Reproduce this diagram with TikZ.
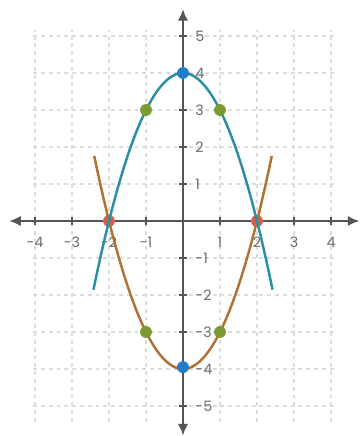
\documentclass[tikz,border=0pt]{standalone}
\usepackage{fontspec}
\setmainfont{Poppins}
\usetikzlibrary{arrows.meta}
\definecolor{gridgray}{HTML}{DCDCDC}
\definecolor{axisgray}{HTML}{555555}
\definecolor{labelgray}{HTML}{6A6A6A}
\definecolor{tealcurve}{HTML}{2C8DA6}
\definecolor{browncurve}{HTML}{B07232}
\definecolor{bluedot}{HTML}{1E7CC8}
\definecolor{greendot}{HTML}{7C9A32}
\definecolor{reddot}{HTML}{D85A50}

\begin{document}
\begin{tikzpicture}[x=1cm, y=1cm,
  gridline/.style={gridgray, dashed, line width=0.9pt},
  axisline/.style={axisgray, line width=1.9pt, {Latex[length=9pt,width=8pt]}-{Latex[length=9pt,width=8pt]}},
  ticklabel/.style={labelgray, inner sep=0pt, font=\fontsize{11}{11}\selectfont},
  curvedot/.style={radius=0.16}]
  \useasboundingbox (-4.946,-5.811) rectangle (4.811,5.973);
  % grid
  \foreach \x in {-4,...,4} \draw[gridline] (\x,-5.43) -- (\x,5.16);
  \foreach \y in {-5,...,5} \draw[gridline] (-4.05,\y) -- (4.15,\y);
  % axes
  \draw[axisline] (-4.7,0) -- (4.77,0);
  \draw[axisline] (0,-5.8) -- (0,5.73);
  \foreach \x in {-4,...,4} \draw[axisgray, line width=1.9pt] (\x,-0.1) -- (\x,0.1);
  \foreach \y in {-5,...,5} \draw[axisgray, line width=1.9pt] (-0.1,\y) -- (0.1,\y);
  \foreach \x in {-4,-3,-2,-1,1,2,3,4} \node[ticklabel] (xl\x) at (\x,-0.58) {\x};
  \foreach \y in {-5,-4,-3,-2,-1,1,2,3,4,5} \node[ticklabel, anchor=west] (yl\y) at (0.33,\y) {\y};
  % roots
  \fill[reddot] (-2,0) circle[curvedot];
  \fill[reddot] (2,0) circle[curvedot];
  % curves
  \draw[browncurve, line width=1.9pt, domain=-2.4:2.4, samples=60] plot (\x,{\x*\x-4});
  \draw[tealcurve, line width=1.9pt, domain=-2.42:2.42, samples=60] plot (\x,{4-\x*\x});
  % points
  \fill[greendot] (-1,3) circle[curvedot];
  \fill[greendot] (1,3) circle[curvedot];
  \fill[greendot] (-1,-3) circle[curvedot];
  \fill[greendot] (1,-3) circle[curvedot];
  \fill[bluedot] (0,4) circle[curvedot];
  \fill[bluedot] (0,-3.95) circle[curvedot];
\end{tikzpicture}
\end{document}
